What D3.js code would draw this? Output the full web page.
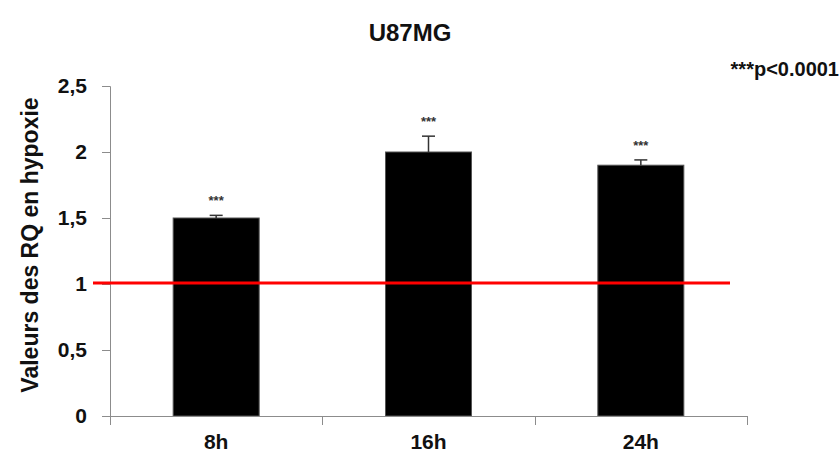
<!DOCTYPE html>
<html><head><meta charset="utf-8">
<script src="https://cdn.jsdelivr.net/npm/d3@7"></script>
<style>body{margin:0;background:#fff}svg{display:block}text{font-family:"Liberation Sans",Arial,sans-serif;font-weight:bold}</style>
</head><body>
<script>
const categories = ["8h", "16h", "24h"];
const values = [1.5, 2.0, 1.9];
const errors = [0.02, 0.12, 0.04];
const significance = ["***", "***", "***"];
const yTicks = [0, 0.5, 1, 1.5, 2, 2.5];
const yTickLabels = ["0", "0,5", "1", "1,5", "2", "2,5"];
const referenceValue = 1;
const title = "U87MG";
const yTitle = "Valeurs des RQ en hypoxie";
const note = "***p<0.0001";

const W = 840, H = 456;
const svg = d3.select("body").append("svg").attr("width", W).attr("height", H);

const x0 = 110, x1 = 747, yTop = 86, yBot = 416;
const y = d3.scaleLinear().domain([0, 2.5]).range([yBot, yTop]);
const xCell = d3.scaleBand().domain(categories).range([x0, x1]).padding(0);
const x = d3.scaleBand().domain(categories).range([x0, x1]).paddingInner(0.595).paddingOuter(0.2975);

const axisColor = "#8c8c8c";

// title
svg.append("text").attr("x", 410).attr("y", 41).attr("text-anchor", "middle")
  .attr("font-size", 24).attr("fill", "#111").text(title);
svg.append("text").attr("x", 839).attr("y", 76).attr("text-anchor", "end")
  .attr("font-size", 20).attr("fill", "#111").text(note);

// y axis
const yAxis = d3.axisLeft(y).tickValues(yTicks).tickSize(8).tickPadding(15)
  .tickFormat((d, i) => yTickLabels[i]);
const gy = svg.append("g").attr("transform", `translate(${x0},0)`).call(yAxis);
gy.select(".domain").attr("stroke", axisColor).attr("d", `M-8,${yTop}.5H0.5V${yBot + 9}`);
gy.selectAll(".tick line").attr("stroke", axisColor);
gy.selectAll(".tick text").attr("font-size", 21).attr("fill", "#111")
  .attr("font-family", "Liberation Sans, Arial, sans-serif").attr("font-weight", "bold");

// y title
svg.append("text").attr("transform", `translate(38,${(yTop + yBot) / 2 - 6}) rotate(-90)`)
  .attr("text-anchor", "middle").attr("font-size", 23).attr("fill", "#111").text(yTitle);

// bars
svg.selectAll("rect.bar").data(categories).join("rect").attr("class", "bar")
  .attr("x", d => x(d)).attr("width", x.bandwidth())
  .attr("y", (d, i) => y(values[i])).attr("height", (d, i) => y(0) - y(values[i]))
  .attr("fill", "#000").attr("stroke", "#555").attr("stroke-width", 1);

// error bars
const eb = svg.append("g").attr("stroke", "#333").attr("stroke-width", 1.5);
categories.forEach((c, i) => {
  const cx = x(c) + x.bandwidth() / 2;
  eb.append("line").attr("x1", cx).attr("x2", cx).attr("y1", y(values[i])).attr("y2", y(values[i] + errors[i]));
  eb.append("line").attr("x1", cx - 6.5).attr("x2", cx + 6.5).attr("y1", y(values[i] + errors[i])).attr("y2", y(values[i] + errors[i]));
  svg.append("text").attr("x", cx).attr("y", y(values[i] + errors[i]) - 10)
    .attr("text-anchor", "middle").attr("font-size", 13).attr("font-weight", "normal").attr("fill", "#333").text(significance[i]);
});

// x axis
const gx = svg.append("g").attr("transform", `translate(0,${yBot})`);
gx.append("line").attr("x1", x0).attr("x2", x1).attr("y1", 0.5).attr("y2", 0.5).attr("stroke", axisColor);
const bounds = categories.map(c => xCell(c)).concat([x1]);
gx.selectAll("line.tk").data(bounds).join("line").attr("class", "tk")
  .attr("x1", d => Math.round(d) + 0.5).attr("x2", d => Math.round(d) + 0.5).attr("y1", 0).attr("y2", 9).attr("stroke", axisColor);
gx.selectAll("text").data(categories).join("text")
  .attr("x", d => xCell(d) + xCell.bandwidth() / 2).attr("y", 33).attr("text-anchor", "middle")
  .attr("font-size", 21).attr("fill", "#111").text(d => d);

// reference line
svg.append("line").attr("x1", 93).attr("x2", 730).attr("y1", y(referenceValue) - 1).attr("y2", y(referenceValue) - 1)
  .attr("stroke", "#ff0000").attr("stroke-width", 3);
</script>
</body></html>
